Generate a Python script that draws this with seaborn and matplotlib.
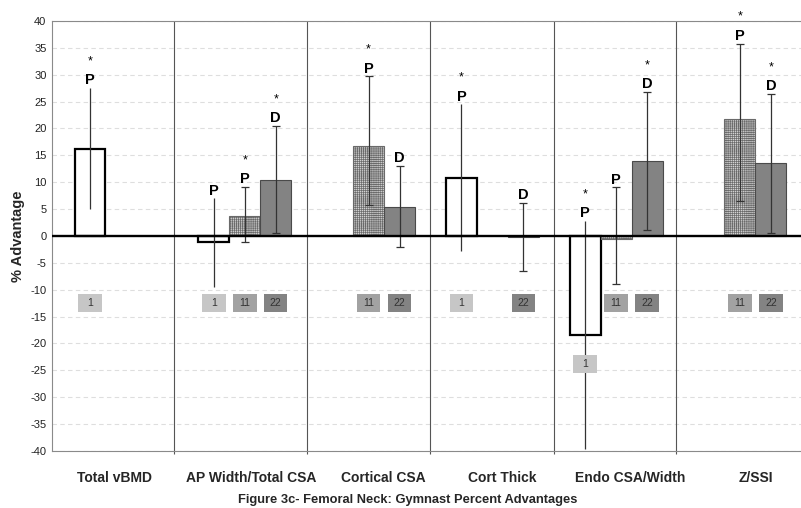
import numpy as np
import pandas as pd
import matplotlib
matplotlib.use("Agg")
import matplotlib.pyplot as plt
import seaborn as sns
from matplotlib.patches import Rectangle
from matplotlib.ticker import MultipleLocator

# --- data ---------------------------------------------------------------
categories = ["Total vBMD", "AP Width/Total CSA", "Cortical CSA",
              "Cort Thick", "Endo CSA/Width", "Z/SSI"]
groups = ["1", "11", "22"]
nan = np.nan

# % advantage (bar heights)
adv_1 = [16.2, -1.2, nan, 10.85, -18.4, nan]
adv_11 = [nan, 3.7, 16.8, nan, -0.55, 21.7]
adv_22 = [nan, 10.4, 5.45, -0.25, 13.9, 13.5]

# error bar ends
low_1 = [5.0, -9.4, nan, -2.7, -39.6, nan]
high_1 = [27.5, 7.0, nan, 24.5, 2.8, nan]
low_11 = [nan, -1.2, 5.8, nan, -8.9, 6.5]
high_11 = [nan, 9.1, 29.7, nan, 9.05, 35.8]
low_22 = [nan, 0.6, -2.0, -6.45, 1.1, 0.6]
high_22 = [nan, 20.5, 13.1, 6.2, 26.85, 26.4]

# letter marks (P / D) and significance stars
mark_1 = ["P", "P", "", "P", "P", ""]
mark_11 = ["", "P", "P", "", "P", "P"]
mark_22 = ["", "D", "D", "D", "D", "D"]
star_1 = [1, 0, 0, 1, 1, 0]
star_11 = [0, 1, 1, 0, 0, 1]
star_22 = [0, 1, 0, 0, 1, 1]

adv = [adv_1, adv_11, adv_22]
lows = [low_1, low_11, low_22]
highs = [high_1, high_11, high_22]
marks = [mark_1, mark_11, mark_22]
stars = [star_1, star_11, star_22]

# --- layout ---------------------------------------------------------------
tag_y = [[-12.5, -12.5, nan, -12.5, -23.8, nan],
         [nan, -12.5, -12.5, nan, -12.5, -12.5],
         [nan, -12.5, -12.5, -12.5, -12.5, -12.5]]
sep_x = [0.43, 1.5, 2.5, 3.5, 4.48]
label_x = [-0.05, 1.05, 2.12, 3.08, 4.11, 5.13]
tag_colors = ["#c6c6c6", "#a2a2a2", "#838383"]

rows = []
for g, vals in zip(groups, adv):
    for c, v in zip(categories, vals):
        if not np.isnan(v):
            rows.append((c, g, v))
df = pd.DataFrame(rows, columns=["measure", "group", "advantage"])

sns.set_style("white")
plt.rcParams["font.family"] = ["Liberation Sans", "DejaVu Sans"]
plt.rcParams["hatch.linewidth"] = 0.5
plt.rcParams["axes.unicode_minus"] = False

fig = plt.figure(figsize=(8.01, 5.08), dpi=100)
ax = fig.add_axes([52 / 801, 1 - 451 / 508, 1 - 52 / 801, 430 / 508])

sns.barplot(data=df, x="measure", y="advantage", hue="group",
            order=categories, hue_order=groups, width=0.75,
            errorbar=None, saturation=1, legend=False,
            palette={"1": "white", "11": "#cfcfcf", "22": "#858585"}, ax=ax)

bar_w = 0.75 / len(groups)
offsets = (np.arange(len(groups)) - 1) * bar_w

# restyle bars by their dodge slot
for p in ax.patches:
    cx = p.get_x() + p.get_width() / 2
    k = int(round((cx - round(cx)) / bar_w)) + 1
    p.set_zorder(2)
    if k == 0:
        p.set_facecolor("white")
        p.set_edgecolor("black")
        p.set_linewidth(1.6)
    elif k == 1:
        p.set_facecolor("#d2d2d2")
        p.set_edgecolor("#6a6a6a")
        p.set_linewidth(0.8)
        p.set_hatch("++++++++")
    else:
        p.set_facecolor("#838383")
        p.set_edgecolor("#4a4a4a")
        p.set_linewidth(0.8)

xs = np.arange(len(categories))
for k in range(len(groups)):
    v = np.array(adv[k])
    lo = np.array(lows[k])
    hi = np.array(highs[k])
    m = ~np.isnan(v)
    x = xs + offsets[k]
    ax.errorbar(x[m], v[m], yerr=[v[m] - lo[m], hi[m] - v[m]], fmt="none",
                ecolor="#333333", elinewidth=0.9,
                capsize=0 if k == 0 else 2.6, capthick=0.9, zorder=4)
    for i in np.where(m)[0]:
        if marks[k][i]:
            ax.text(x[i], hi[i] + 0.7, marks[k][i], ha="center", va="baseline",
                    fontsize=10.5, fontweight="bold", color="black",
                    zorder=6, clip_on=False)
        if stars[k][i]:
            ax.text(x[i], hi[i] + 4.4, "*", ha="center", va="baseline",
                    fontsize=9, color="black", zorder=6, clip_on=False)
        ty = tag_y[k][i]
        ax.add_patch(Rectangle((x[i] - 0.095, ty - 1.7), 0.19, 3.4,
                               facecolor=tag_colors[k], edgecolor="none", zorder=6))
        ax.text(x[i], ty, groups[k], ha="center", va="center", fontsize=7.5,
                color="#333333", zorder=7)

ax.axhline(0, color="black", lw=1.7, zorder=5)
ax.vlines(sep_x, -40.5, 40, color="#555555", lw=0.8, zorder=1, clip_on=False)

ax.set_xlim(-0.557, 5.493)
ax.set_ylim(-40, 40)
ax.set_yticks(range(-40, 41, 5))
ax.yaxis.set_minor_locator(MultipleLocator(1))
ax.yaxis.grid(True, which="major", linestyle=(0, (4, 3)), color="#dedede", lw=0.8)
ax.set_axisbelow(True)
ax.tick_params(axis="y", which="major", direction="in", length=4, width=0.7,
               color="#888888", labelsize=8, pad=4, labelcolor="#222222")
ax.tick_params(axis="y", which="minor", direction="in", length=2, width=0.5,
               color="#aaaaaa")
ax.set_xticks(label_x)
ax.set_xticklabels(categories, fontsize=10, fontweight="bold")
ax.tick_params(axis="x", length=0, pad=14.4)
ax.set_xlabel("")
ax.set_ylabel("")

for side in ["left", "top", "bottom"]:
    ax.spines[side].set_color("#8a8a8a")
    ax.spines[side].set_linewidth(0.8)
ax.spines["right"].set_visible(False)

fig.text(18 / 801, 1 - 236 / 508, "% Advantage", rotation=90, ha="center",
         va="center", fontsize=10.5, fontweight="bold")
fig.text(407.5 / 801, 1 - 503 / 508,
         "Figure 3c- Femoral Neck: Gymnast Percent Advantages",
         ha="center", va="baseline", fontsize=9.3, fontweight="bold")

fig.savefig("out.png", dpi=100)
